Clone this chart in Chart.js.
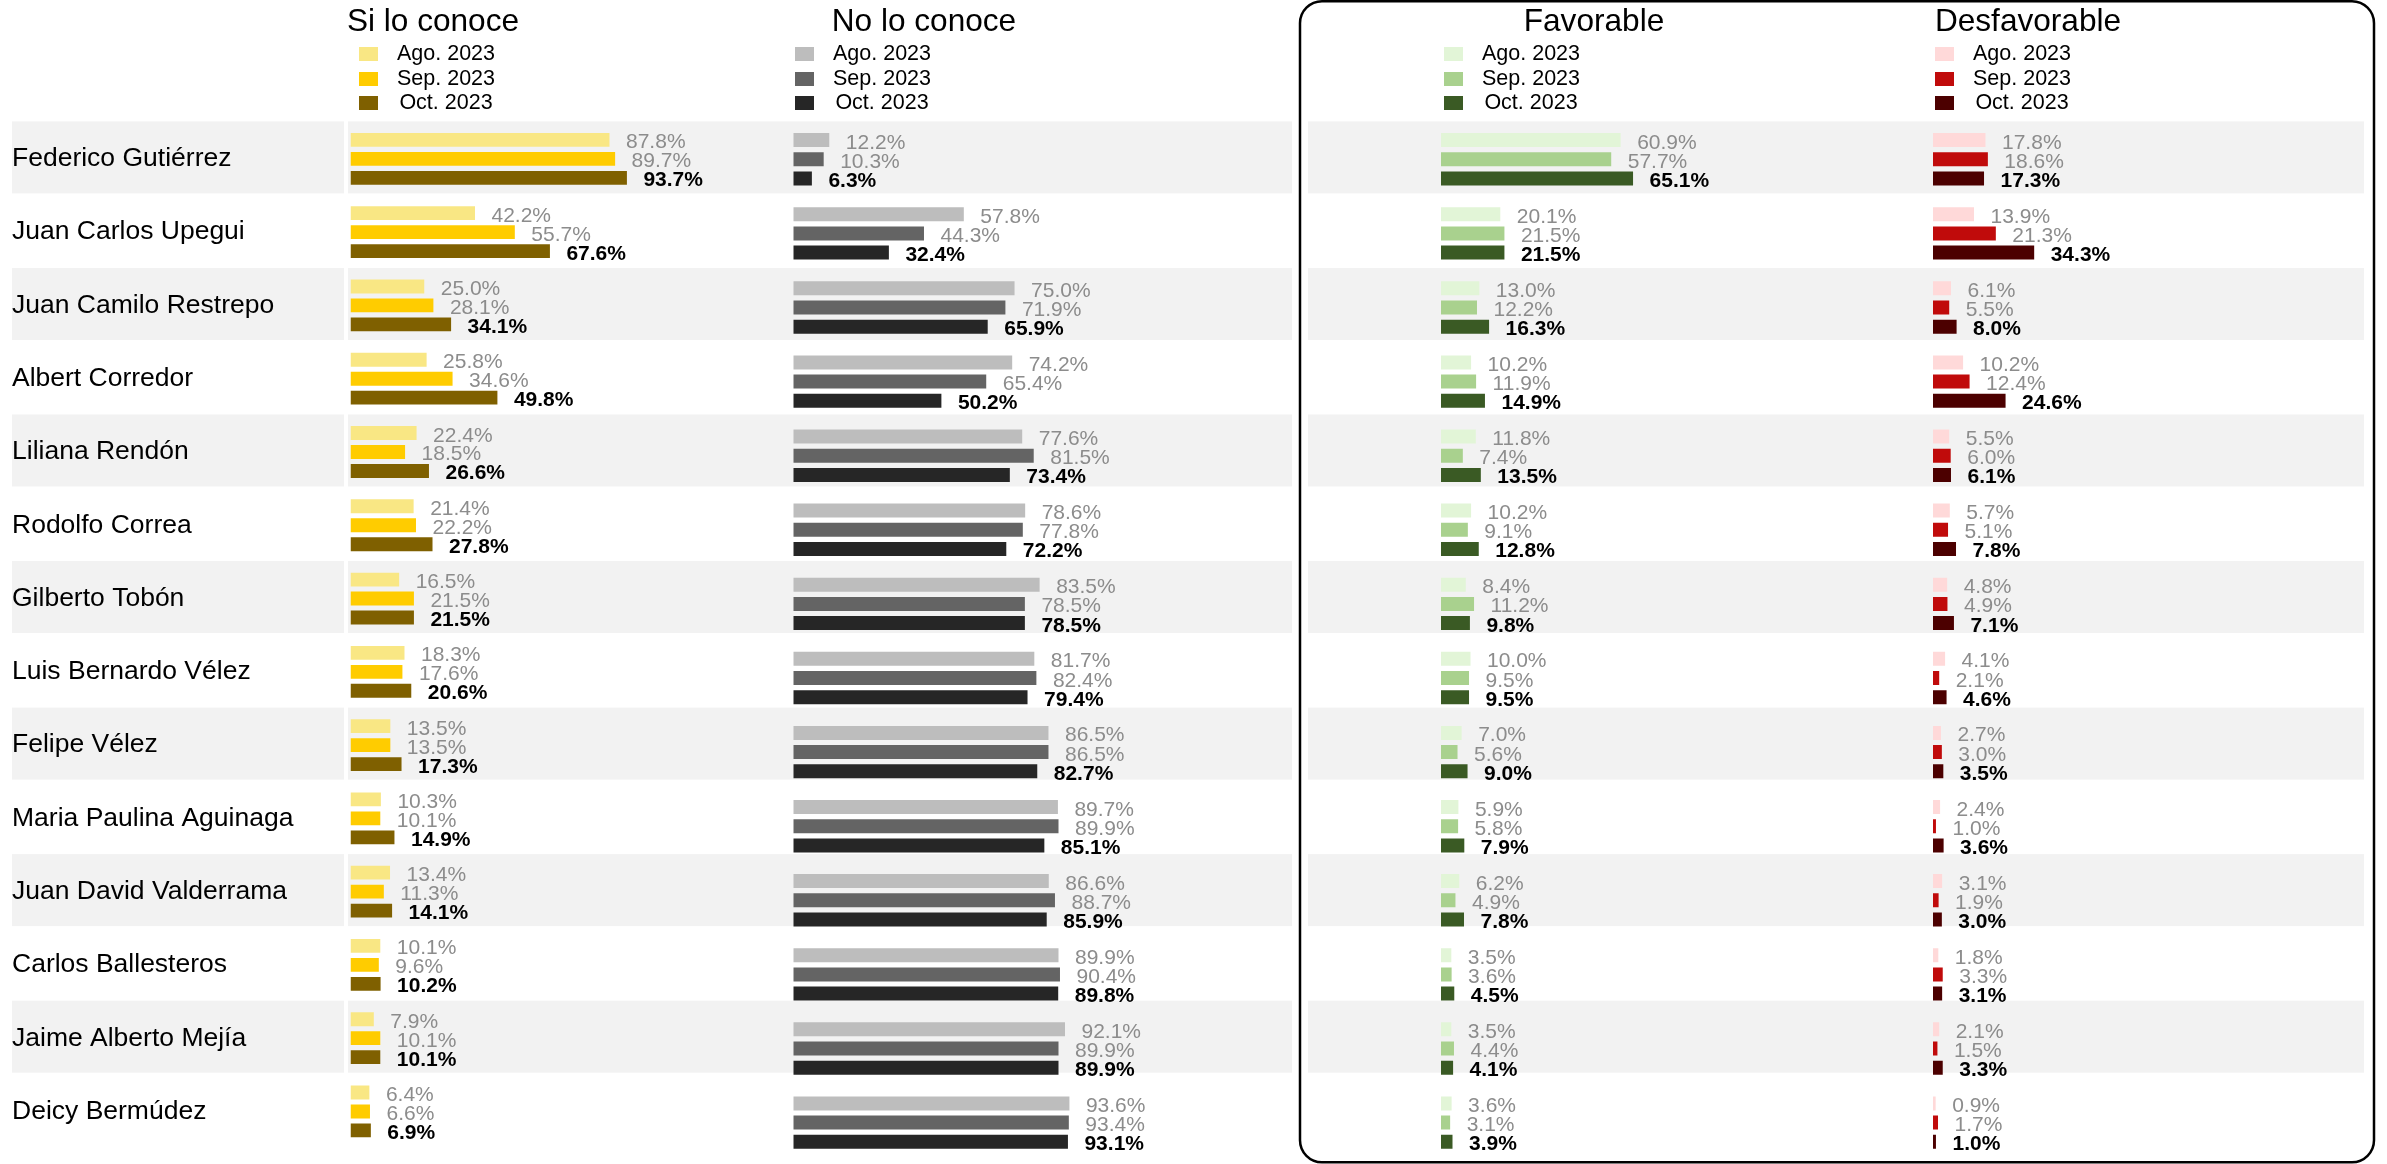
<!DOCTYPE html>
<html>
<head>
<meta charset="utf-8">
<script src="https://cdn.jsdelivr.net/npm/chart.js@4.4.0/dist/chart.umd.min.js"></script>
<style>
  body { margin: 0; background: #fff; font-family: 'Liberation Sans', Arial, sans-serif; }
  #wrap { position: relative; width: 2387px; height: 1164px; overflow: hidden; }
  canvas { position: absolute; left: 0; top: 0; }
  .title { position: absolute; width: 400px; text-align: center; font-size: 31.6px; line-height: 1; top: 5px; color: #000; }
  .legbox { position: absolute; width: 19px; height: 14px; }
  .legtxt { position: absolute; width: 200px; text-align: center; font-size: 21.5px; line-height: 1; color: #000; }
</style>
</head>
<body>
<div id="wrap"></div>
<script>
const candidates = [
  'Federico Gutiérrez', 'Juan Carlos Upegui', 'Juan Camilo Restrepo', 'Albert Corredor',
  'Liliana Rendón', 'Rodolfo Correa', 'Gilberto Tobón', 'Luis Bernardo Vélez', 'Felipe Vélez',
  'Maria Paulina Aguinaga', 'Juan David Valderrama', 'Carlos Ballesteros', 'Jaime Alberto Mejía',
  'Deicy Bermúdez'
];
const months = ['Ago. 2023', 'Sep. 2023', 'Oct. 2023'];

// Si lo conoce
const conoceAgo = [87.8, 42.2, 25.0, 25.8, 22.4, 21.4, 16.5, 18.3, 13.5, 10.3, 13.4, 10.1, 7.9, 6.4];
const conoceSep = [89.7, 55.7, 28.1, 34.6, 18.5, 22.2, 21.5, 17.6, 13.5, 10.1, 11.3, 9.6, 10.1, 6.6];
const conoceOct = [93.7, 67.6, 34.1, 49.8, 26.6, 27.8, 21.5, 20.6, 17.3, 14.9, 14.1, 10.2, 10.1, 6.9];

// No lo conoce
const noConoceAgo = [12.2, 57.8, 75.0, 74.2, 77.6, 78.6, 83.5, 81.7, 86.5, 89.7, 86.6, 89.9, 92.1, 93.6];
const noConoceSep = [10.3, 44.3, 71.9, 65.4, 81.5, 77.8, 78.5, 82.4, 86.5, 89.9, 88.7, 90.4, 89.9, 93.4];
const noConoceOct = [6.3, 32.4, 65.9, 50.2, 73.4, 72.2, 78.5, 79.4, 82.7, 85.1, 85.9, 89.8, 89.9, 93.1];

// Favorable
const favAgo = [60.9, 20.1, 13.0, 10.2, 11.8, 10.2, 8.4, 10.0, 7.0, 5.9, 6.2, 3.5, 3.5, 3.6];
const favSep = [57.7, 21.5, 12.2, 11.9, 7.4, 9.1, 11.2, 9.5, 5.6, 5.8, 4.9, 3.6, 4.4, 3.1];
const favOct = [65.1, 21.5, 16.3, 14.9, 13.5, 12.8, 9.8, 9.5, 9.0, 7.9, 7.8, 4.5, 4.1, 3.9];

// Desfavorable
const desfAgo = [17.8, 13.9, 6.1, 10.2, 5.5, 5.7, 4.8, 4.1, 2.7, 2.4, 3.1, 1.8, 2.1, 0.9];
const desfSep = [18.6, 21.3, 5.5, 12.4, 6.0, 5.1, 4.9, 2.1, 3.0, 1.0, 1.9, 3.3, 1.5, 1.7];
const desfOct = [17.3, 34.3, 8.0, 24.6, 6.1, 7.8, 7.1, 4.6, 3.5, 3.6, 3.0, 3.1, 3.3, 1.0];

const W = 2387, H = 1164;
const FONT = "'Liberation Sans', Arial, sans-serif";
const panelWidth = 295;
const areaTop = 122.25, areaBottom = 1159.65;

const panels = [
  { title: 'Si lo conoce', left: 350.5, titleX: 433, legendX: 359,
    colors: ['#F9E784', '#FFCC00', '#7F6000'], data: [conoceAgo, conoceSep, conoceOct], names: true },
  { title: 'No lo conoce', left: 793.3, titleX: 924, legendX: 795,
    colors: ['#BDBDBD', '#646464', '#262626'], data: [noConoceAgo, noConoceSep, noConoceOct] },
  { title: 'Favorable', left: 1441, titleX: 1594, legendX: 1444,
    colors: ['#E2F5D7', '#A9D18E', '#3A5A24'], data: [favAgo, favSep, favOct] },
  { title: 'Desfavorable', left: 1933, titleX: 2028, legendX: 1935,
    colors: ['#FFD9D9', '#C00B0B', '#4C0000'], data: [desfAgo, desfSep, desfOct], box: true }
];

const wrap = document.getElementById('wrap');

// gray bands behind every other row
const bandPlugin = {
  id: 'bands',
  beforeDraw(chart) {
    const ctx = chart.ctx, y = chart.scales.y;
    const spans = [[12, 344], [348, 1292], [1308, 2364]];
    ctx.save();
    ctx.fillStyle = '#F2F2F2';
    candidates.forEach((c, i) => {
      if (i % 2) return;
      const cy = y.getPixelForValue(i);
      spans.forEach(s => ctx.fillRect(s[0], cy - 37.5, s[1] - s[0], 72));
    });
    ctx.restore();
  }
};

// value labels right of the bars
const valuePlugin = {
  id: 'values',
  afterDatasetsDraw(chart) {
    const ctx = chart.ctx;
    ctx.save();
    ctx.textAlign = 'left';
    ctx.textBaseline = 'alphabetic';
    chart.data.datasets.forEach((ds, k) => {
      const last = k === 2;
      ctx.font = (last ? 'bold ' : '') + '21px ' + FONT;
      ctx.fillStyle = last ? '#000' : '#8C8C8C';
      chart.getDatasetMeta(k).data.forEach((bar, i) => {
        ctx.fillText(ds.data[i].toFixed(1) + '%', bar.x + 16.5, bar.y + 8.5);
      });
    });
    ctx.restore();
  }
};

// rounded frame around favorable / desfavorable
const framePlugin = {
  id: 'frame',
  afterDraw(chart) {
    const ctx = chart.ctx;
    ctx.save();
    ctx.strokeStyle = '#000';
    ctx.lineWidth = 2.5;
    ctx.beginPath();
    ctx.roundRect(1300, 1.25, 1074, 1161, 22);
    ctx.stroke();
    ctx.restore();
  }
};

panels.forEach((p, n) => {
  const cv = document.createElement('canvas');
  cv.width = W; cv.height = H;
  wrap.appendChild(cv);

  const plugins = [valuePlugin];
  if (n === 0) plugins.unshift(bandPlugin);
  if (p.box) plugins.push(framePlugin);

  const yAxis = {
    display: !!p.names,
    grid: { display: false },
    border: { display: false },
    ticks: { crossAlign: 'far', autoSkip: false, padding: 0, color: '#000', font: { size: 26.5, family: FONT } }
  };
  if (p.names) yAxis.afterFit = s => { s.width = p.left - 12; };

  new Chart(cv, {
    type: 'bar',
    data: {
      labels: candidates,
      datasets: months.map((m, k) => ({
        label: m,
        data: p.data[k],
        backgroundColor: p.colors[k],
        categoryPercentage: 0.777,
        barPercentage: 0.729
      }))
    },
    options: {
      indexAxis: 'y',
      responsive: false,
      animation: false,
      layout: { padding: { left: p.names ? 12 : p.left, right: W - p.left - panelWidth, top: areaTop, bottom: H - areaBottom } },
      scales: {
        x: { display: false, min: 0, max: 100 },
        y: yAxis
      },
      plugins: { legend: { display: false }, tooltip: { enabled: false } }
    },
    plugins: plugins
  });

  // title and legend
  const t = document.createElement('div');
  t.className = 'title';
  t.style.left = (p.titleX - 200) + 'px';
  t.textContent = p.title;
  wrap.appendChild(t);

  months.forEach((m, k) => {
    const cy = 54 + k * 24.5;
    const b = document.createElement('div');
    b.className = 'legbox';
    b.style.left = p.legendX + 'px';
    b.style.top = (cy - 7) + 'px';
    b.style.background = p.colors[k];
    wrap.appendChild(b);
    const lt = document.createElement('div');
    lt.className = 'legtxt';
    lt.style.left = (p.legendX + 87 - 100) + 'px';
    lt.style.top = (cy + 7.5 - 18.2) + 'px';
    lt.textContent = m;
    wrap.appendChild(lt);
  });
});
</script>
</body>
</html>
